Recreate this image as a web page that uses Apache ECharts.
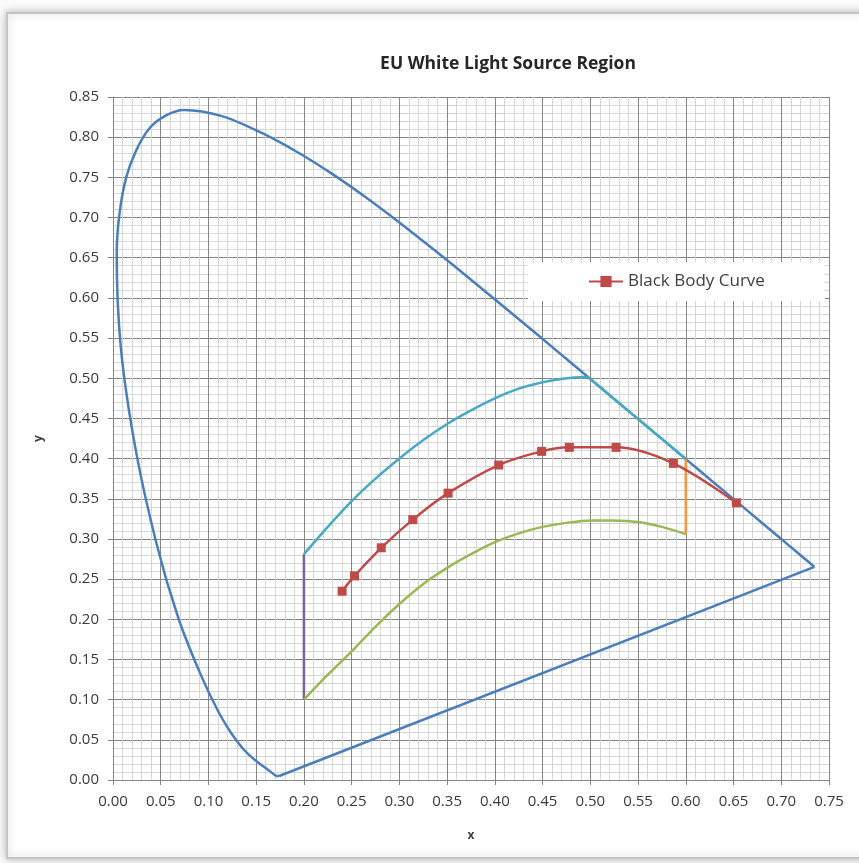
<!DOCTYPE html>
<html>
<head>
<meta charset="utf-8">
<title>EU White Light Source Region</title>
<script src="https://cdn.jsdelivr.net/npm/echarts@6/dist/echarts.min.js"></script>
<style>
  html, body { margin: 0; padding: 0; background: #fafafa; }
  #chart { width: 859px; height: 863px; }
</style>
</head>
<body>
<div id="chart"></div>
<script>
// CIE 1931 spectral locus, 380 nm .. 700 nm
var spectralLocus = [
  [0.1741, 0.0050], [0.1714, 0.0051], [0.1644, 0.0109], [0.1566, 0.0177],
  [0.1510, 0.0227], [0.1440, 0.0297], [0.1355, 0.0399], [0.1241, 0.0578],
  [0.1096, 0.0868], [0.0913, 0.1327], [0.0687, 0.2007], [0.0454, 0.2950],
  [0.0235, 0.4127], [0.0082, 0.5384], [0.0039, 0.6548], [0.0139, 0.7502],
  [0.0389, 0.8120], [0.0743, 0.8338], [0.1142, 0.8262], [0.1547, 0.8059],
  [0.1929, 0.7816], [0.2296, 0.7543], [0.2658, 0.7243], [0.3016, 0.6923],
  [0.3373, 0.6589], [0.3731, 0.6245], [0.4087, 0.5896], [0.4441, 0.5547],
  [0.4788, 0.5202], [0.5125, 0.4866], [0.5448, 0.4544], [0.5752, 0.4242],
  [0.6029, 0.3965], [0.6270, 0.3725], [0.6482, 0.3514], [0.6658, 0.3340],
  [0.6915, 0.3083], [0.7079, 0.2920], [0.7190, 0.2809], [0.7300, 0.2700],
  [0.7347, 0.2653]
]
// line of purples
var purpleLine = [[0.7347, 0.2653], [0.1741, 0.0050]]

// white region boundaries
var upperBound = [
  [0.200, 0.281], [0.225, 0.315], [0.250, 0.347], [0.275, 0.375],
  [0.300, 0.400], [0.325, 0.423], [0.350, 0.443], [0.375, 0.460],
  [0.400, 0.475], [0.425, 0.487], [0.450, 0.495], [0.475, 0.500],
  [0.497, 0.502]
]
var upperLocus = [
  [0.497, 0.502], [0.5125, 0.4866], [0.5448, 0.4544], [0.5752, 0.4242], [0.600, 0.3994]
]
var rightBound = [[0.600, 0.3994], [0.600, 0.306]]
var lowerBound = [
  [0.200, 0.100], [0.225, 0.131], [0.250, 0.160], [0.275, 0.191],
  [0.300, 0.219], [0.325, 0.244], [0.350, 0.264], [0.375, 0.281],
  [0.400, 0.296], [0.425, 0.307], [0.450, 0.315], [0.475, 0.320],
  [0.500, 0.323], [0.525, 0.323], [0.550, 0.321], [0.575, 0.315],
  [0.600, 0.306]
]
var leftBound = [[0.200, 0.100], [0.200, 0.281]]

// Planckian locus markers
var blackBody = [
  [0.240, 0.235], [0.253, 0.254], [0.281, 0.289], [0.314, 0.324],
  [0.351, 0.357], [0.404, 0.392], [0.449, 0.409], [0.478, 0.414],
  [0.527, 0.414], [0.587, 0.394], [0.653, 0.345]
]

var labelFont = 'Open Sans'
var majorColor = '#868686'
var minorColor = '#d6d6d6'

function lineSeries(name, data, color, smooth, z) {
  return {
    name: name,
    type: 'line',
    data: data,
    smooth: smooth,
    showSymbol: false,
    symbol: 'none',
    z: z,
    lineStyle: { color: color, width: 2.5 },
    itemStyle: { color: color },
    emphasis: { disabled: true },
    silent: true
  }
}

var chart = echarts.init(document.getElementById('chart'))

var option = {
  backgroundColor: '#fafafa',
  animation: false,
  graphic: [{
    type: 'rect',
    z: -10,
    shape: { x: 7, y: 13, width: 900, height: 845 },
    style: {
      fill: '#ffffff',
      stroke: '#c4c4c4',
      lineWidth: 2,
      shadowBlur: 8,
      shadowColor: 'rgba(0,0,0,0.25)'
    }
  }],
  title: {
    text: 'EU White Light Source Region',
    left: 503,
    top: 50,
    textAlign: 'center',
    textStyle: { fontFamily: labelFont, fontSize: 17.5, fontWeight: 'bold', color: '#262626' }
  },
  legend: {
    data: ['Black Body Curve'],
    left: 528,
    top: 262,
    padding: [11, 60, 11, 60],
    backgroundColor: '#ffffff',
    itemWidth: 34,
    itemHeight: 14,
    itemGap: 5,
    textStyle: { fontFamily: labelFont, fontSize: 17, color: '#404040' }
  },
  grid: { left: 113, right: 30, top: 97, bottom: 83, containLabel: false },
  xAxis: {
    type: 'value',
    min: 0,
    max: 0.75,
    interval: 0.05,
    name: 'x',
    nameLocation: 'middle',
    nameGap: 50,
    nameTextStyle: { fontFamily: labelFont, fontSize: 12, fontWeight: 'bold', color: '#404040' },
    axisLine: { show: true, lineStyle: { color: majorColor } },
    axisTick: { show: true, length: 5, lineStyle: { color: majorColor } },
    axisLabel: {
      margin: 14,
      fontFamily: labelFont,
      fontSize: 15,
      color: '#3a3a3a',
      formatter: function (v) { return v.toFixed(2) }
    },
    splitLine: { show: true, lineStyle: { color: majorColor, width: 1 } },
    minorTick: { show: false, splitNumber: 5 },
    minorSplitLine: { show: true, lineStyle: { color: minorColor, width: 1 } }
  },
  yAxis: {
    type: 'value',
    min: 0,
    max: 0.85,
    interval: 0.05,
    name: 'y',
    nameLocation: 'middle',
    nameGap: 68,
    nameRotate: 90,
    nameTextStyle: { fontFamily: labelFont, fontSize: 12, fontWeight: 'bold', color: '#404040' },
    axisLine: { show: true, lineStyle: { color: majorColor } },
    axisTick: { show: true, length: 5, lineStyle: { color: majorColor } },
    axisLabel: {
      margin: 14,
      fontFamily: labelFont,
      fontSize: 15,
      color: '#3a3a3a',
      formatter: function (v) { return v.toFixed(2) }
    },
    splitLine: { show: true, lineStyle: { color: majorColor, width: 1 } },
    minorTick: { show: false, splitNumber: 5 },
    minorSplitLine: { show: true, lineStyle: { color: minorColor, width: 1 } }
  },
  series: [
    lineSeries('Spectral Locus', spectralLocus, '#4A7EBB', 0.3, 2),
    lineSeries('Line of Purples', purpleLine, '#4A7EBB', false, 2),
    lineSeries('Left', leftBound, '#7D60A0', false, 3),
    lineSeries('Lower', lowerBound, '#98B954', 0.3, 3),
    lineSeries('Right', rightBound, '#F69240', false, 3),
    lineSeries('Upper', upperBound, '#46AAC5', 0.3, 4),
    lineSeries('Upper Locus', upperLocus, '#46AAC5', false, 4),
    {
      name: 'Black Body Curve',
      type: 'line',
      data: blackBody,
      smooth: 0.3,
      symbol: 'rect',
      symbolSize: 9,
      z: 5,
      lineStyle: { color: '#BE4B48', width: 2.5 },
      itemStyle: { color: '#BE4B48' },
      silent: true
    }
  ]
}

chart.setOption(option)
</script>
</body>
</html>
